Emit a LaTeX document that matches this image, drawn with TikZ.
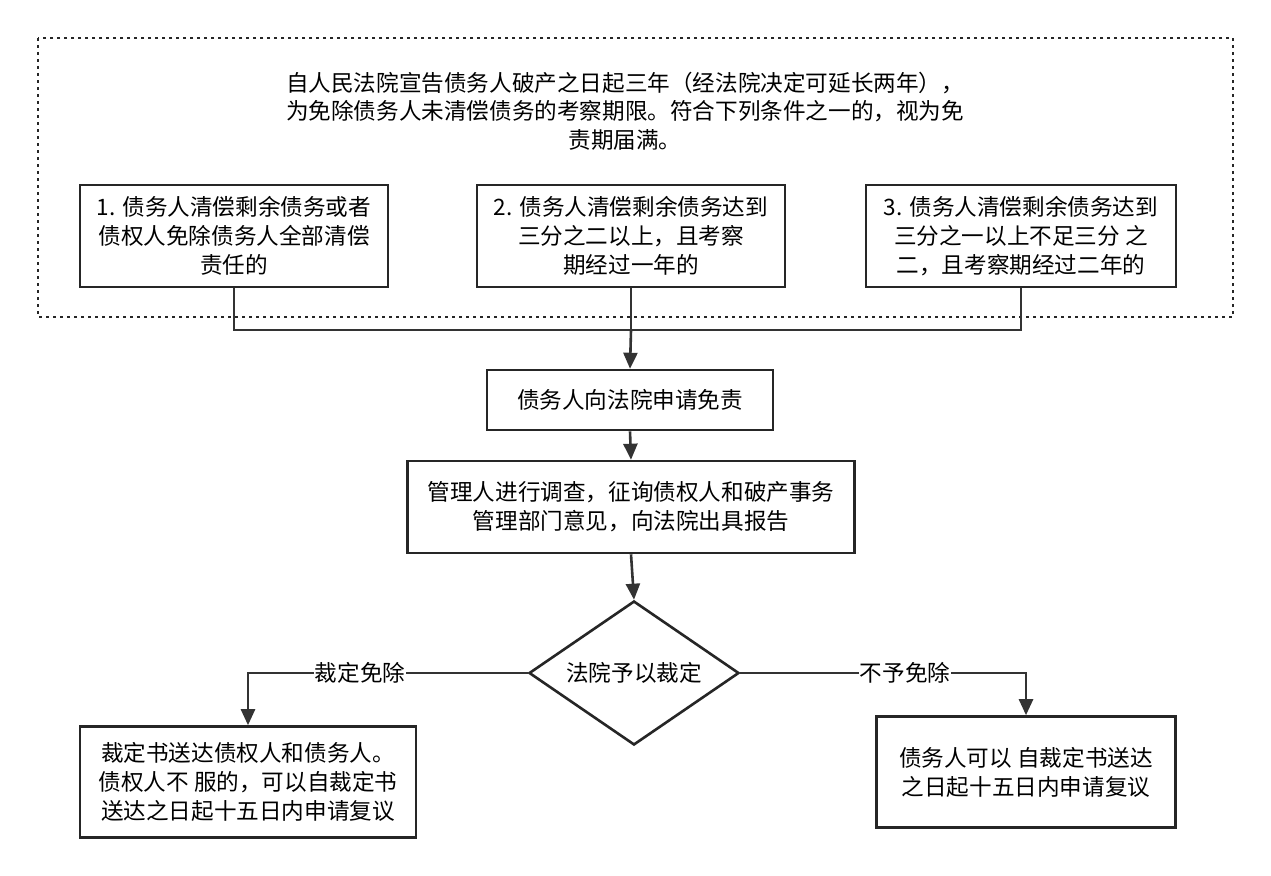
\documentclass[tikz,border=0pt]{standalone}
\usepackage{fontspec}
\setmainfont{Noto Sans CJK SC}
\usetikzlibrary{shapes.geometric,arrows.meta}
\begin{document}
\begin{tikzpicture}[x=1pt,y=-1pt,
  box/.style={draw=black!85,line width=2.6pt,align=center,font=\fontsize{22.6}{29}\selectfont,inner sep=0},
  con/.style={draw=black!80,line width=2.6pt},
  arr/.style={con,-{Triangle[length=16pt,width=14pt]}},
  lab/.style={fill=white,font=\fontsize{22.6}{26}\selectfont,inner sep=1pt}]
\useasboundingbox (0,0) rectangle (1271,875);
\fill[white] (0,0) rectangle (1271,875);
\draw[line width=2.6pt,dash pattern=on 3pt off 4pt,black!85] (38,38) rectangle (1233,317);
\node[align=center,font=\fontsize{22.6}{28.5}\selectfont] (intro) at (625,111) {自人民法院宣告债务人破产之日起三年（经法院决定可延长两年），\\为免除债务人未清偿债务的考察期限。符合下列条件之一的，视为免\\责期届满。};
\node[box,minimum width=308,minimum height=102] (b1) at (234,236) {1. 债务人清偿剩余债务或者\\债权人免除债务人全部清偿\\责任的};
\node[box,minimum width=308,minimum height=102] (b2) at (631,236) {2. 债务人清偿剩余债务达到\\三分之二以上，且考察\\期经过一年的};
\node[box,minimum width=310,minimum height=102] (b3) at (1021,236) {3. 债务人清偿剩余债务达到\\三分之一以上不足三分 之\\二，且考察期经过二年的};
\node[box,minimum width=286,minimum height=60] (s1) at (630,400) {债务人向法院申请免责};
\node[box,minimum width=447,minimum height=92] (s2) at (631,507) {管理人进行调查，征询债权人和破产事务\\管理部门意见，向法院出具报告};
\node[box,diamond,minimum width=210,minimum height=144,inner sep=0,aspect=1.46] (d) at (634,673) {法院予以裁定};
\node[box,minimum width=336,minimum height=111] (l) at (248,782) {裁定书送达债权人和债务人。\\债权人不 服的，可以自裁定书\\送达之日起十五日内申请复议};
\node[box,minimum width=299,minimum height=111] (r) at (1026,772) {债务人可以 自裁定书送达\\之日起十五日内申请复议};
\coordinate (j) at (631,330);
\draw[con] (b1.south) |- (j) -| (b3.south);
\draw[con] (b2.south) -- (j);
\draw[arr] (j) -- (s1.north);
\draw[arr] (s1.south) -- (s2.north);
\draw[arr] (s2.south) -- (d.north);
\draw[arr] (d.west) -| (l.north);
\draw[arr] (d.east) -| (r.north);
\node[lab] (ll) at (360,673) {裁定免除};
\node[lab] (rl) at (905,673) {不予免除};
\end{tikzpicture}
\end{document}
